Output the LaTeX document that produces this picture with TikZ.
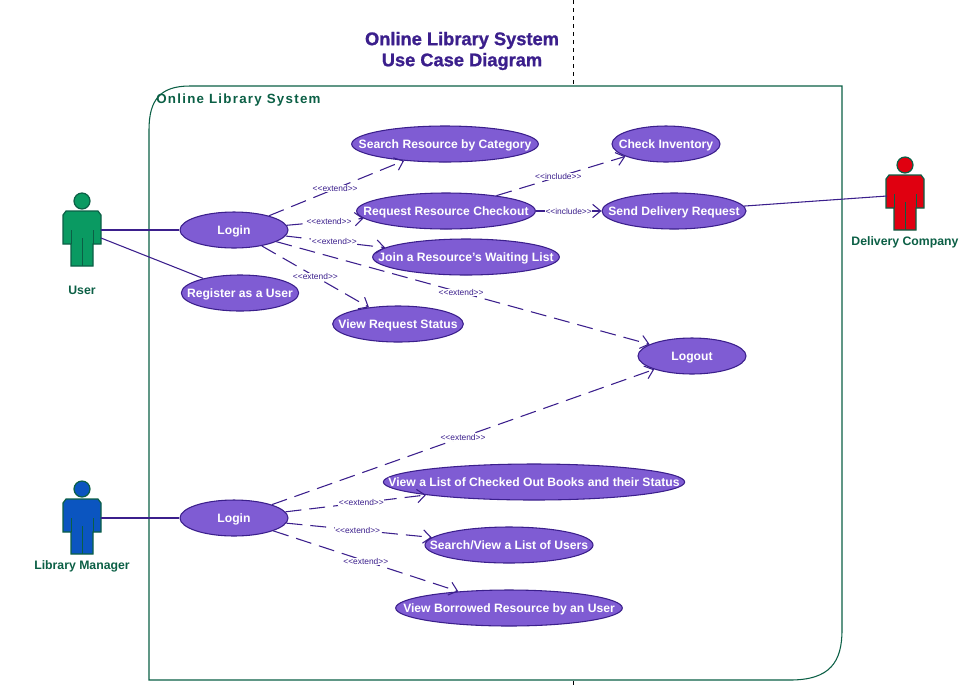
\documentclass[tikz,border=0pt]{standalone}
\usepackage{fontspec}
\setmainfont{Liberation Sans}
\newfontfamily\framefont[LetterSpace=9.5]{Liberation Sans}
\newfontfamily\titlefont[BoldFeatures={FakeBold=1.2}]{Liberation Sans}
\usepackage{xcolor}
\usepackage{tikz}
\usetikzlibrary{positioning,arrows.meta,shapes.geometric}
\definecolor{libInk}{HTML}{3B1F8C}
\definecolor{libCase}{HTML}{7F5CD3}
\definecolor{libFrame}{HTML}{0B5F45}
\definecolor{actorGreen}{HTML}{0A9A62}
\definecolor{actorBlue}{HTML}{0B55C0}
\definecolor{actorRed}{HTML}{E00010}

\begin{document}
\begin{tikzpicture}[
      x=0.75pt,y=-0.75pt,
      usecase/.style={ellipse,draw=libInk,fill=libCase,line width=0.8pt,inner xsep=-150pt,inner ysep=-20pt,
        minimum height=27pt,text height=6.5pt,text depth=0.5pt,text=white,font=\fontsize{9.1}{10}\selectfont\bfseries},
      actorname/.style={text=libFrame,text height=6.5pt,text depth=0.5pt,font=\fontsize{9.2}{10}\selectfont\bfseries},
      assoc/.style={draw=libInk,line width=0.8pt},
      relation/.style={draw=libInk,line width=0.8pt,dash pattern=on 12pt off 6pt,
        -{Straight Barb[length=6pt,width=10pt]}},
      rellabel/.style={fill=white,inner sep=0.4pt,text=libInk,font=\fontsize{6.3}{7}\selectfont},
      actorfig/.pic={
        \draw[draw=libFrame,fill=#1,line width=0.9pt] (0,0) circle (8);
        \draw[draw=libFrame,fill=#1,line width=0.9pt] (-16,10) -- (16,10) -- (19,14) -- (19,43)
          -- (11,43) -- (11,65) -- (-11,65) -- (-11,43) -- (-19,43) -- (-19,14) -- cycle;
        \draw[draw=libFrame,line width=0.7pt] (-11,29) -- (-11,43) (11,29) -- (11,43) (0,37) -- (0,65);
        \coordinate (-upper) at (19,29);
        \coordinate (-lower) at (19,37);
        \coordinate (-left) at (-18,31);
      }]
    \useasboundingbox (0,0) rectangle (967,687);
    % system frame and centre line
    \draw[black,dashed,line width=0.6pt] (573,0) -- (573,84);
    \draw[black,dashed,line width=0.6pt] (573,681) -- (573,687);
    \draw[libFrame,line width=0.8pt] (190,86) -- (842,86) -- (842,630)
      .. controls (842,662) and (830,680) .. (790,680) -- (149,680) -- (149,130)
      .. controls (149,100) and (160,86) .. (190,86) -- cycle;
    \node[text=libInk,align=center,font=\titlefont\fontsize{13.7}{15.8}\selectfont\bfseries] (title) at (462,51)
      {Online Library System\\Use Case Diagram};
    \node[anchor=west,inner sep=0pt,text=libFrame,font=\framefont\fontsize{10}{11}\selectfont\bfseries] (sysname) at (156,100)
      {Online Library System};
    % actors
    \pic (user) at (82,201) {actorfig=actorGreen};
    \pic (manager) at (82,489) {actorfig=actorBlue};
    \pic (company) at (905,165) {actorfig=actorRed};
    \node[actorname] (username) at (82,290) {User};
    \node[actorname] (managername) at (82,565) {Library Manager};
    \node[actorname] (companyname) at (905,241) {Delivery Company};
    % use cases
    \node[usecase,minimum width=81pt] (login1) at (234,230) {Login};
    \node[usecase,minimum width=88pt] (register) at (240,293) {Register as a User};
    \node[usecase,minimum width=140pt] (search) at (445,144) {Search Resource by Category};
    \node[usecase,minimum width=134pt] (request) at (446,211) {Request Resource Checkout};
    \node[usecase,minimum width=140pt] (join) at (466,257) {Join a Resource's Waiting List};
    \node[usecase,minimum width=98pt] (status) at (398,324) {View Request Status};
    \node[usecase,minimum width=81pt] (inventory) at (666,144) {Check Inventory};
    \node[usecase,minimum width=108pt] (send) at (674,211) {Send Delivery Request};
    \node[usecase,minimum width=81pt] (logout) at (692,356) {Logout};
    \node[usecase,minimum width=81pt] (login2) at (234,518) {Login};
    \node[usecase,minimum width=226pt] (checked) at (534,482) {View a List of Checked Out Books and their Status};
    \node[usecase,minimum width=126pt] (users) at (509,545) {Search/View a List of Users};
    \node[usecase,minimum width=170pt] (borrowed) at (509,608) {View Borrowed Resource by an User};
    % associations
    \draw[assoc] (user-upper) -- (login1);
    \draw[assoc] (user-lower) -- (register);
    \draw[assoc] (manager-upper) -- (login2);
    \draw[assoc] (send) -- (company-left);
    % extend and include
    \draw[relation] (login1) -- node[rellabel,pos=0.49] (lab1) {{<}{<}extend{>}{>}} (search);
    \draw[relation] (login1) -- node[rellabel,pos=0.55] (lab2) {{<}{<}extend{>}{>}} (request);
    \draw[relation] (login1) -- node[rellabel,pos=0.49] (lab3) {{<}{<}extend{>}{>}} (join);
    \draw[relation] (login1) -- node[rellabel,pos=0.5] (lab4) {{<}{<}extend{>}{>}} (status);
    \draw[relation] (login1) -- node[rellabel,pos=0.495] (lab5) {{<}{<}extend{>}{>}} (logout);
    \draw[relation] (request) -- node[rellabel,pos=0.48] (lab6) {{<}{<}include{>}{>}} (inventory);
    \draw[relation] (request) -- node[rellabel,pos=0.5] (lab7) {{<}{<}include{>}{>}} (send);
    \draw[relation] (login2) -- node[rellabel,pos=0.5] (lab8) {{<}{<}extend{>}{>}} (logout);
    \draw[relation] (login2) -- node[rellabel,pos=0.54] (lab9) {{<}{<}extend{>}{>}} (checked);
    \draw[relation] (login2) -- node[rellabel,pos=0.49] (lab10) {{<}{<}extend{>}{>}} (users);
    \draw[relation] (login2) -- node[rellabel,pos=0.5] (lab11) {{<}{<}extend{>}{>}} (borrowed);
  \end{tikzpicture}
\end{document}
